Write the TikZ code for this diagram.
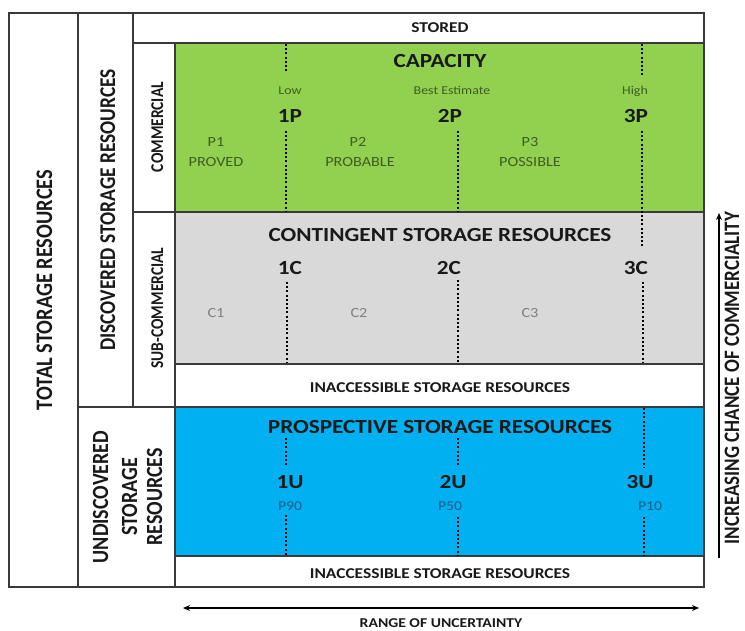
\documentclass[tikz,border=0pt]{standalone}
\usepackage{fontspec}
\setmainfont{Carlito}
\usetikzlibrary{arrows.meta}
\definecolor{capgreen}{HTML}{92D050}
\definecolor{contgrey}{HTML}{D9D9D9}
\definecolor{prosblue}{HTML}{00B0F0}
\definecolor{gridline}{HTML}{3A3A3A}
\definecolor{gtext}{HTML}{3F5E22}
\definecolor{ctext}{HTML}{808080}
\definecolor{btext}{HTML}{1D5C8C}
\tikzset{
  grid/.style={draw=gridline, line width=1.8pt},
  dotline/.style={line width=2.2pt, dash pattern=on 2pt off 2.2pt, black},
  txt/.style={inner sep=0pt, xscale=1.16, text=black!90},
  bigt/.style={txt, font=\bfseries\fontsize{20}{22}\selectfont, anchor=base},
  markt/.style={txt, font=\bfseries\fontsize{20}{22}\selectfont, anchor=base},
  smallg/.style={txt, font=\fontsize{12}{14}\selectfont, text=gtext, anchor=base},
  regg/.style={txt, font=\fontsize{14}{16}\selectfont, text=gtext, anchor=base},
  regc/.style={txt, font=\fontsize{14}{16}\selectfont, text=ctext, anchor=base},
  regb/.style={txt, font=\fontsize{13.5}{16}\selectfont, text=btext, anchor=base},
  rowt/.style={txt, font=\bfseries\fontsize{15}{17}\selectfont, anchor=base},
  side/.style={txt, font=\bfseries\fontsize{#1}{#1}\selectfont, rotate=90, anchor=base},
  arr/.style={line width=1.6pt, black, arrows={-{Stealth[length=7pt,width=6pt]}}},
  darr/.style={line width=1.6pt, black, arrows={{Stealth[length=7pt,width=6pt]}-{Stealth[length=7pt,width=6pt]}}}
}
\begin{document}
\begin{tikzpicture}[x=1pt,y=-1pt]
\useasboundingbox (0,0) rectangle (745,631);
\fill[white] (0,0) rectangle (745,631);
% coloured bands
\fill[capgreen] (175,43) rectangle (704,212);
\fill[contgrey] (175,212) rectangle (704,364);
\fill[prosblue] (175,407) rectangle (704,556);
% grid
\draw[grid] (9,13) rectangle (704,587);
\draw[grid] (78,13) -- (78,587);
\draw[grid] (133,13) -- (133,407);
\draw[grid] (175,43) -- (175,587);
\draw[grid] (133,43) -- (704,43);
\draw[grid] (133,212) -- (704,212);
\draw[grid] (175,364) -- (704,364);
\draw[grid] (78,407) -- (704,407);
\draw[grid] (175,556) -- (704,556);

% side labels (baseline at right side)
\node[side=20.4] (total) at (52,290) {TOTAL STORAGE RESOURCES};
\node[side=19.4] (disc) at (115,210) {DISCOVERED STORAGE RESOURCES};
\node[side=15.5] (comm) at (163,127) {COMMERCIAL};
\node[side=15.5] (subc) at (163,308) {SUB-COMMERCIAL};
\node[side=20] (und1) at (108,497) {UNDISCOVERED};
\node[side=20] (und2) at (137,497) {STORAGE};
\node[side=20] (und3) at (162,497) {RESOURCES};

% top row
\node[rowt] (stored) at (440,33) {STORED};

% capacity
\node[bigt] (cap) at (440,68) {CAPACITY};
\node[smallg] (low) at (290,95) {Low};
\node[smallg] (best) at (452,95) {Best Estimate};
\node[smallg] (high) at (635,95) {High};
\node[markt] (p1m) at (290,123) {1P};
\node[markt] (p2m) at (450,123) {2P};
\node[markt] (p3m) at (636,123) {3P};
\node[regg] (p1) at (216,147) {P1};
\node[regg] (p1b) at (216,167) {PROVED};
\node[regg] (p2) at (358,147) {P2};
\node[regg] (p2b) at (360,167) {PROBABLE};
\node[regg] (p3) at (530,147) {P3};
\node[regg] (p3b) at (530,167) {POSSIBLE};
\coordinate (d1a) at (286,44); \coordinate (d1b) at (286,73);
\coordinate (d1c) at (286,131); \coordinate (d1d) at (286,211);
\coordinate (d2c) at (458,131); \coordinate (d2d) at (458,211);
\coordinate (d3a) at (642,44); \coordinate (d3b) at (642,77);
\coordinate (d3c) at (642,131); \coordinate (d3d) at (642,248);
\draw[dotline] (d1a) -- (d1b);
\draw[dotline] (d1c) -- (d1d);
\draw[dotline] (d2c) -- (d2d);
\draw[dotline] (d3a) -- (d3b);
\draw[dotline] (d3c) -- (d3d);

% contingent
\node[bigt] (cont) at (440,242) {CONTINGENT STORAGE RESOURCES};
\node[markt] (c1m) at (290,275) {1C};
\node[markt] (c2m) at (449,275) {2C};
\node[markt] (c3m) at (636,275) {3C};
\node[regc] (c1) at (216,318) {C1};
\node[regc] (c2) at (359,318) {C2};
\node[regc] (c3) at (530,318) {C3};
\coordinate (e1a) at (287,282); \coordinate (e1b) at (287,363);
\coordinate (e2a) at (458,280); \coordinate (e2b) at (458,363);
\coordinate (e3a) at (643,282); \coordinate (e3b) at (643,363);
\draw[dotline] (e1a) -- (e1b);
\draw[dotline] (e2a) -- (e2b);
\draw[dotline] (e3a) -- (e3b);

\node[rowt] (inac1) at (440,392) {INACCESSIBLE STORAGE RESOURCES};

% prospective
\node[bigt] (pros) at (440,433) {PROSPECTIVE STORAGE RESOURCES};
\node[markt] (u1m) at (290,488) {1U};
\node[markt] (u2m) at (453,488) {2U};
\node[markt] (u3m) at (640,488) {3U};
\node[regb] (p90) at (290,510) {P90};
\node[regb] (p50) at (450,510) {P50};
\node[regb] (p10) at (650,510) {P10};
\coordinate (f1a) at (286,438); \coordinate (f1b) at (286,467);
\coordinate (f1c) at (286,515); \coordinate (f1d) at (286,555);
\coordinate (f2a) at (458,438); \coordinate (f2b) at (458,467);
\coordinate (f2c) at (458,517); \coordinate (f2d) at (458,555);
\coordinate (f3a) at (644,408); \coordinate (f3b) at (644,468);
\coordinate (f3c) at (644,517); \coordinate (f3d) at (644,555);
\draw[dotline] (f1a) -- (f1b);
\draw[dotline] (f1c) -- (f1d);
\draw[dotline] (f2a) -- (f2b);
\draw[dotline] (f2c) -- (f2d);
\draw[dotline] (f3a) -- (f3b);
\draw[dotline] (f3c) -- (f3d);

\node[rowt] (inac2) at (440,578) {INACCESSIBLE STORAGE RESOURCES};

% axes
\coordinate (hl) at (183,608); \coordinate (hr) at (699,608);
\draw[darr] (hl) -- (hr);
\node[txt, font=\bfseries\fontsize{13.5}{15}\selectfont, anchor=base] (range) at (441,627) {RANGE OF UNCERTAINTY};
\coordinate (vb) at (719,558); \coordinate (vt) at (719,213);
\draw[arr] (vb) -- (vt);
\node[side=19] (incr) at (739,378) {INCREASING CHANCE OF COMMERCIALITY};
\end{tikzpicture}
\end{document}
